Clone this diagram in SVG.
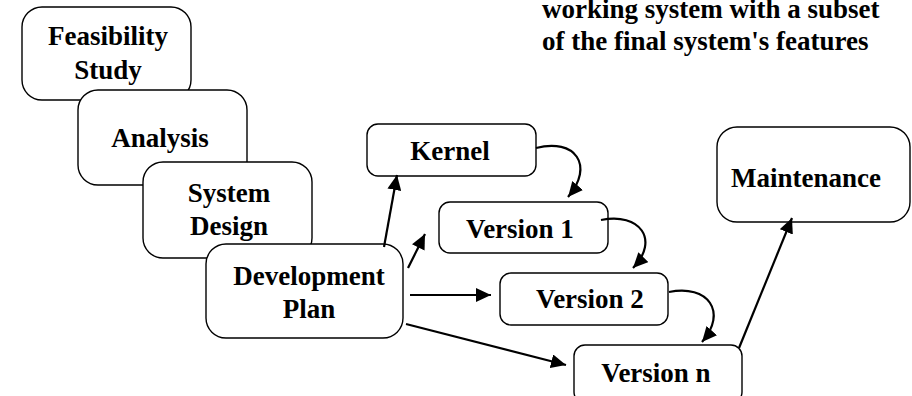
<svg xmlns="http://www.w3.org/2000/svg" width="912" height="396" viewBox="0 0 912 396">
<style>
.box{fill:#fff;stroke:#000;stroke-width:1.4}
.t{font-family:"Liberation Serif","Times New Roman",serif;font-weight:bold;font-size:27px;fill:#000;text-anchor:middle}
.note{font-family:"Liberation Serif","Times New Roman",serif;font-weight:bold;font-size:27px;fill:#000}
.c{fill:none;stroke:#000;stroke-width:2.2}
</style>
<defs>
<marker id="ah" markerUnits="userSpaceOnUse" markerWidth="16" markerHeight="14" viewBox="0 0 16 14" refX="15" refY="7" orient="auto">
<path d="M0,0 L15,7 L0,14 Z" fill="#000"/>
</marker>
</defs>
<rect width="912" height="396" fill="#fff"/>
<g id="note">
<text class="note" x="542" y="18">working system with a subset</text>
<text class="note" x="542" y="50">of the final system's features</text>
</g>
<g id="feasibility">
<rect class="box" x="22" y="7" width="169" height="93" rx="20"/>
<text class="t" x="108" y="45">Feasibility</text>
<text class="t" x="108" y="79">Study</text>
</g>
<g id="analysis">
<rect class="box" x="78" y="90" width="169" height="95" rx="20"/>
<text class="t" x="160" y="147">Analysis</text>
</g>
<g id="system-design">
<rect class="box" x="143" y="162" width="169" height="96" rx="20"/>
<text class="t" x="229" y="202">System</text>
<text class="t" x="229" y="235">Design</text>
</g>
<g id="development-plan">
<rect class="box" x="206" y="244" width="197" height="94" rx="20"/>
<text class="t" x="309" y="285">Development</text>
<text class="t" x="309" y="318">Plan</text>
</g>
<g id="kernel">
<rect class="box" x="367" y="124" width="169" height="52" rx="11"/>
<text class="t" x="450" y="160">Kernel</text>
</g>
<g id="version-1">
<rect class="box" x="439" y="202" width="169" height="51" rx="11"/>
<text class="t" x="520" y="238">Version 1</text>
</g>
<g id="version-2">
<rect class="box" x="500" y="273" width="168" height="52" rx="11"/>
<text class="t" x="590" y="308">Version 2</text>
</g>
<g id="version-n">
<rect class="box" x="574" y="345" width="168" height="58" rx="11"/>
<text class="t" x="656" y="382">Version n</text>
</g>
<g id="maintenance">
<rect class="box" x="717" y="127" width="193" height="95" rx="20"/>
<text class="t" x="806" y="187">Maintenance</text>
</g>
<g id="connectors">
<line class="c" x1="384" y1="247" x2="397" y2="175" marker-end="url(#ah)"/>
<line class="c" x1="408" y1="268" x2="425" y2="234" marker-end="url(#ah)"/>
<line class="c" x1="410" y1="295" x2="491" y2="295" marker-end="url(#ah)"/>
<line class="c" x1="406" y1="324" x2="566" y2="365" marker-end="url(#ah)"/>
<line class="c" x1="739" y1="348" x2="792" y2="218" marker-end="url(#ah)"/>
<path class="c" d="M536,148 C575,138 595,165 568,197" marker-end="url(#ah)"/>
<path class="c" d="M601,220 C640,212 660,240 633,268" marker-end="url(#ah)"/>
<path class="c" d="M669,292 C708,284 728,312 702,342" marker-end="url(#ah)"/>
</g>
</svg>
